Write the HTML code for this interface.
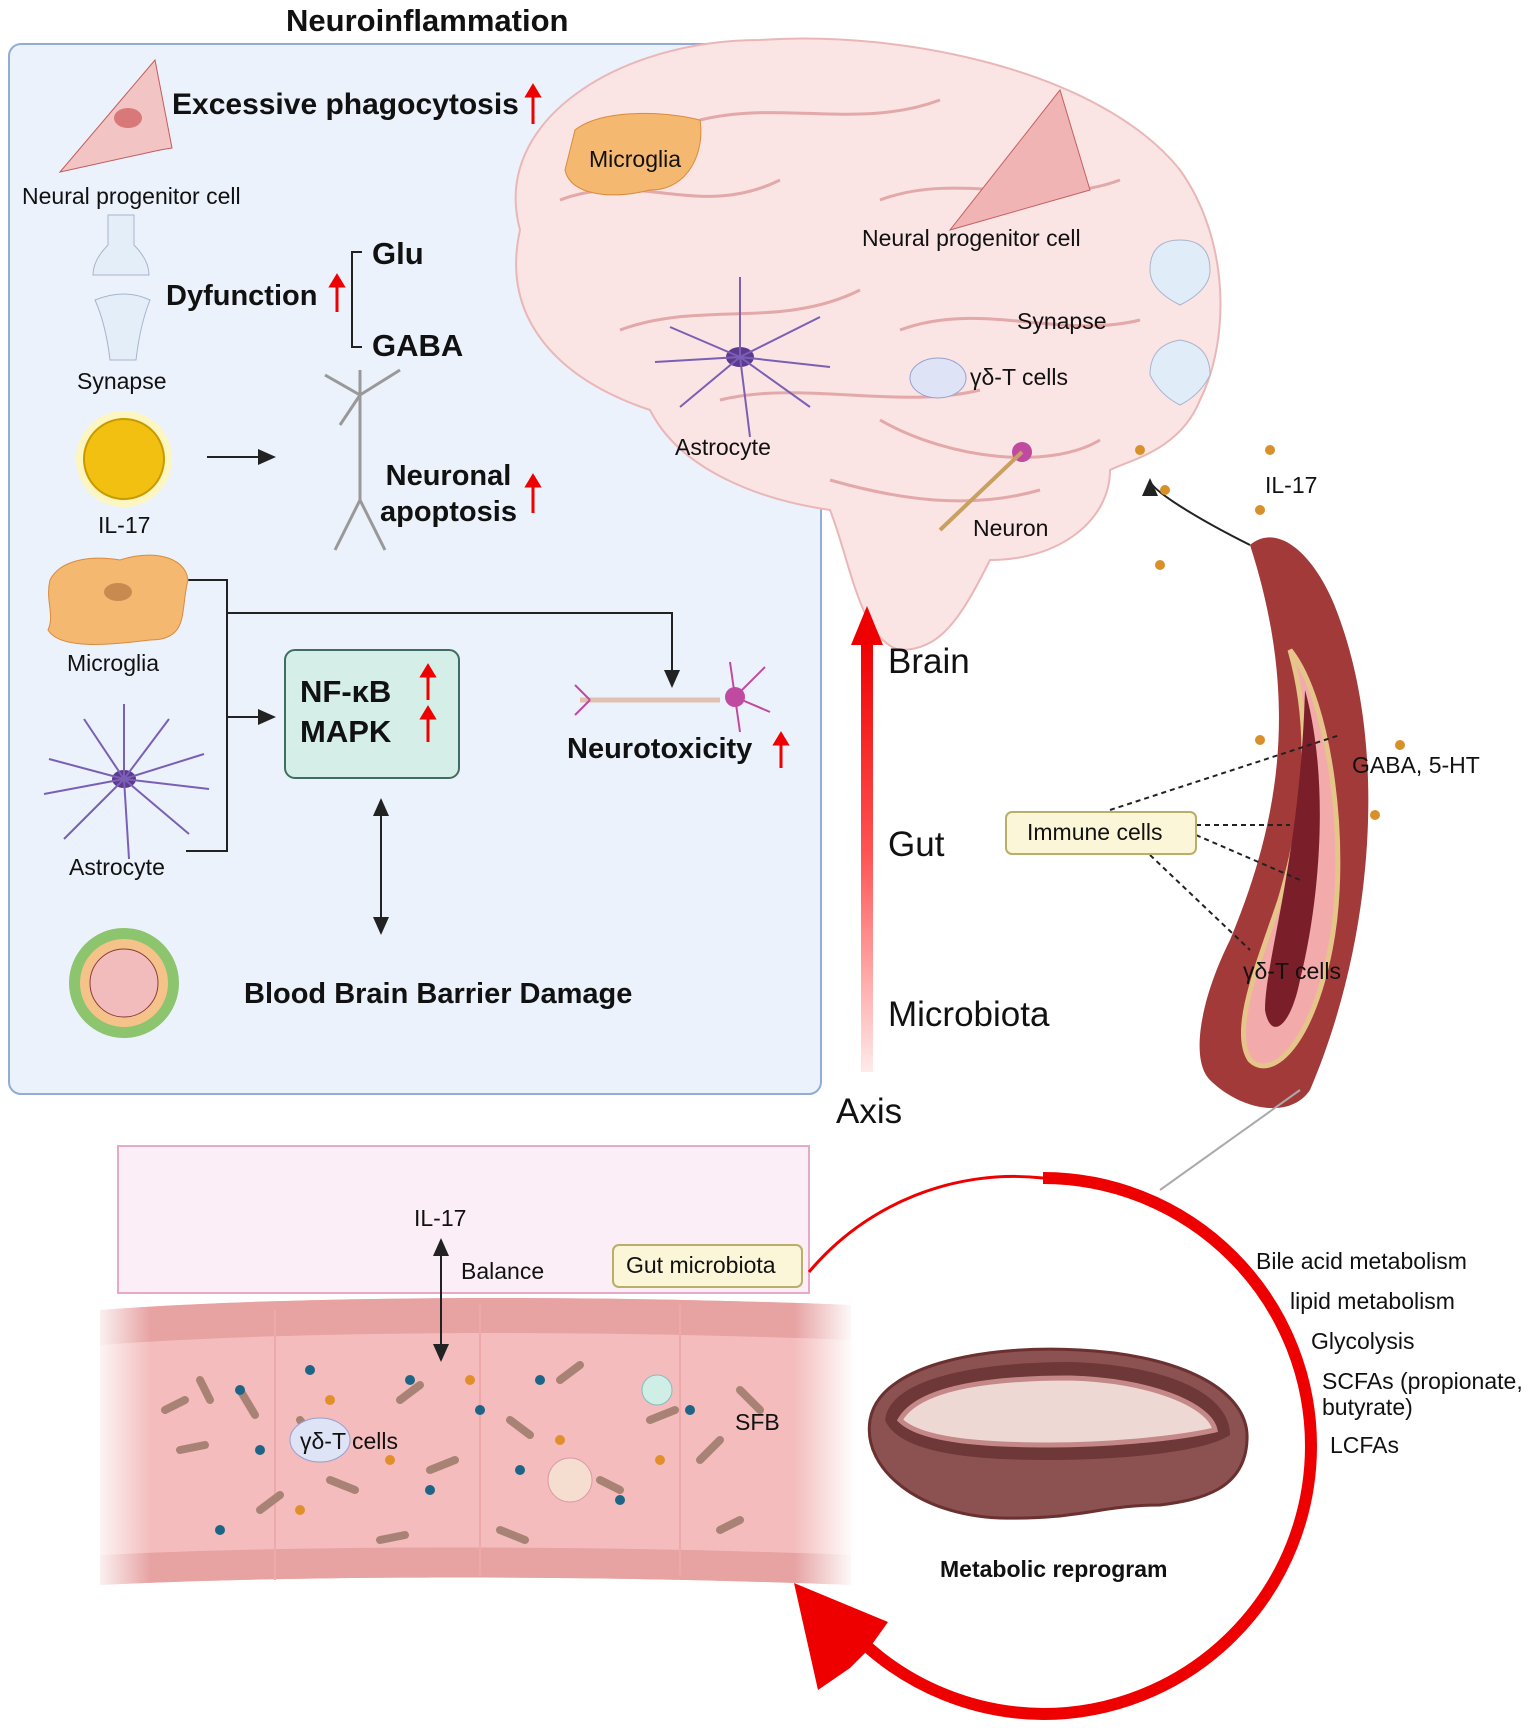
<!DOCTYPE html>
<html><head><meta charset="utf-8"><style>
body{margin:0;width:1535px;height:1728px;position:relative;background:#fff;font-family:"Liberation Sans",sans-serif;overflow:hidden}
.t{position:absolute;white-space:nowrap;color:#111}
.b{font-weight:bold}
</style></head><body>
<svg width="1535" height="1728" style="position:absolute;left:0;top:0">
<defs>
<linearGradient id="ra" x1="0" y1="1" x2="0" y2="0"><stop offset="0" stop-color="#ffeaea"/><stop offset="0.5" stop-color="#f55"/><stop offset="1" stop-color="#e00"/></linearGradient>
<linearGradient id="gf" x1="0" y1="0" x2="1" y2="0"><stop offset="0" stop-color="#fff" stop-opacity="1"/><stop offset="0.08" stop-color="#fff" stop-opacity="0"/><stop offset="0.92" stop-color="#fff" stop-opacity="0"/><stop offset="1" stop-color="#fff" stop-opacity="1"/></linearGradient>
<marker id="ah" markerWidth="10" markerHeight="10" refX="8" refY="5" orient="auto-start-reverse"><path d="M0,1 L9,5 L0,9z" fill="#222"/></marker>
</defs>
<rect x="9" y="44" width="812" height="1050" rx="12" fill="#ebf2fb" stroke="#93acd3" stroke-width="2"/>
<path d="M520,230 C490,120 620,40 760,40 C900,30 1100,70 1180,170 C1230,240 1230,340 1200,400 C1180,450 1130,460 1110,470 C1110,520 1060,560 990,560 C960,620 940,650 900,650 C860,640 850,560 830,510 C760,500 680,470 650,410 C560,380 500,320 520,230z" fill="#fbe4e4" stroke="#e9b7b7" stroke-width="2"/>
<path d="M560,200 C640,170 700,220 780,180 M620,330 C700,300 780,330 860,290 M700,120 C780,100 860,130 940,100 M880,200 C960,170 1040,210 1120,180 M900,330 C980,300 1060,340 1140,320 M720,400 C800,380 900,410 980,390 M880,420 C950,460 1050,470 1100,440 M830,480 C900,500 970,510 1040,490" stroke="#e3a8a8" stroke-width="3" fill="none"/>
<path d="M575,130 C600,110 660,110 700,120 C705,150 690,190 650,190 C610,200 570,195 565,170z" fill="#f5b870" stroke="#d98b3d"/>
<path d="M950,230 L1090,190 L1060,90 Z" fill="#f1b4b4" stroke="#c46060"/>
<ellipse cx="740" cy="357" rx="14" ry="10" fill="#5b3a8f"/>
<g stroke="#7b5fb5" stroke-width="2"><path d="M740,357 l-70,-30 M740,357 l80,-40 M740,357 l-60,50 M740,357 l70,50 M740,357 l0,-80 M740,357 l10,80 M740,357 l-85,5 M740,357 l90,10"/></g>
<ellipse cx="938" cy="378" rx="28" ry="20" fill="#dfe3f6" stroke="#98a0d0"/>
<path d="M1150,270 q0,-30 30,-30 q30,0 30,30 q0,20 -30,35 q-30,-15 -30,-35z M1150,375 q0,-30 30,-35 q30,5 30,35 q-10,20 -30,30 q-20,-10 -30,-30z" fill="#e0ecf8" stroke="#aab5cc"/>
<circle cx="1022" cy="452" r="10" fill="#c04aa0"/>
<path d="M1022,452 L940,530" stroke="#c8a060" stroke-width="4"/>
<rect x="861" y="640" width="12" height="432" fill="url(#ra)"/>
<path d="M851,645 L867,606 L883,645z" fill="#e00"/>
<path d="M1250,545 C1280,520 1320,560 1340,620 C1390,760 1370,950 1310,1090 C1290,1120 1240,1110 1210,1080 C1190,1060 1200,1000 1230,940 C1280,820 1300,700 1250,545z" fill="#a33a3a"/>
<path d="M1290,650 C1330,700 1350,850 1330,950 C1310,1050 1270,1080 1250,1060 C1230,1030 1260,960 1280,900 C1310,800 1310,720 1290,650z" fill="#f2aaaa" stroke="#e6c58a" stroke-width="5"/>
<path d="M1305,690 C1330,780 1320,900 1300,980 C1290,1030 1270,1040 1265,1010 C1265,960 1300,860 1305,690z" fill="#7a1f2a"/>
<path d="M1250,545 C1200,520 1150,490 1150,480" stroke="#222" stroke-width="2" fill="none" marker-end="url(#ah)"/>
<g fill="#d8902a"><circle cx="1165" cy="490" r="5"/><circle cx="1140" cy="450" r="5"/><circle cx="1270" cy="450" r="5"/><circle cx="1160" cy="565" r="5"/><circle cx="1260" cy="510" r="5"/><circle cx="1400" cy="745" r="5"/><circle cx="1260" cy="740" r="5"/><circle cx="1375" cy="815" r="5"/></g>
<path d="M1110,810 L1340,735 M1196,825 L1290,825 M1196,835 L1300,880 M1150,855 L1250,950" stroke="#222" stroke-width="2" stroke-dasharray="5,4"/>
<rect x="1006" y="812" width="190" height="42" rx="6" fill="#fbf6d8" stroke="#b9ae6a" stroke-width="2"/>
<line x1="1300" y1="1090" x2="1160" y2="1190" stroke="#aaa" stroke-width="2"/>
<g stroke="#222" stroke-width="2" fill="none">
<path d="M207,457 L274,457" marker-end="url(#ah)"/>
<path d="M186,580 L227,580 L227,851 L186,851"/>
<path d="M227,613 L672,613 L672,686" marker-end="url(#ah)"/>
<path d="M227,717 L274,717" marker-end="url(#ah)"/>
<path d="M381,800 L381,933" marker-start="url(#ah)" marker-end="url(#ah)"/>
<path d="M362,252 L352,252 L352,347 L362,347"/>
</g>
<rect x="285" y="650" width="174" height="128" rx="10" fill="#d6eee8" stroke="#3f6e60" stroke-width="2"/>
<g stroke="#e00" stroke-width="3" fill="#e00">
<path d="M533,124 V92"/><path d="M527,96 L533,86 L539,96z"/>
<path d="M337,312 V282"/><path d="M331,286 L337,276 L343,286z"/>
<path d="M533,513 V482"/><path d="M527,486 L533,476 L539,486z"/>
<path d="M428,700 V672"/><path d="M422,676 L428,666 L434,676z"/>
<path d="M428,742 V714"/><path d="M422,718 L428,708 L434,718z"/>
<path d="M781,768 V740"/><path d="M775,744 L781,734 L787,744z"/>
</g>
<path d="M60,172 L160,150 L172,148 L155,60 Z" fill="#f3c4c4" stroke="#c35c5c"/>
<ellipse cx="128" cy="118" rx="14" ry="10" fill="#d87878"/>
<path d="M108,215 v30 q-15,15 -15,30 h56 q0,-15 -15,-30 v-30z M95,300 q30,-12 55,0 q-10,25 -14,60 h-26 q-4,-35 -15,-60z" fill="#e4eef8" stroke="#a8b4cc"/>
<circle cx="124" cy="459" r="48" fill="#fdf6c0"/><circle cx="124" cy="459" r="40" fill="#f1c010" stroke="#c79a00" stroke-width="2"/>
<g stroke="#999" stroke-width="3" fill="none"><path d="M360,370 l0,130 M360,395 l-35,-20 M360,395 l40,-25 M360,395 l-20,30 M360,500 l-25,50 M360,500 l25,50"/></g>
<path d="M50,580 C60,560 90,555 120,560 C150,550 185,555 188,580 C180,610 190,640 150,640 C110,645 60,650 48,630 C55,615 45,600 50,580z" fill="#f5b870" stroke="#d98b3d"/>
<ellipse cx="118" cy="592" rx="14" ry="9" fill="#c98a50"/>
<ellipse cx="124" cy="779" rx="12" ry="9" fill="#5b3a8f"/>
<g stroke="#7b5fb5" stroke-width="2"><path d="M124,779 l-75,-20 M124,779 l80,-25 M124,779 l-60,60 M124,779 l65,55 M124,779 l0,-75 M124,779 l5,80 M124,779 l-80,15 M124,779 l85,10 M124,779 l-40,-60 M124,779 l45,-60"/></g>
<circle cx="124" cy="983" r="55" fill="#8dc46e"/><circle cx="124" cy="983" r="44" fill="#f5c38a"/><circle cx="124" cy="983" r="34" fill="#f3bcbc" stroke="#8a3a3a"/>
<path d="M580,700 L720,700" stroke="#e0c0b0" stroke-width="5"/>
<circle cx="735" cy="697" r="10" fill="#c04aa0"/>
<g stroke="#c04aa0" stroke-width="2"><path d="M735,697 l30,-30 M735,697 l35,15 M735,697 l-5,-35 M735,697 l5,35 M590,700 l-15,-15 M590,700 l-15,15"/></g>
<rect x="118" y="1146" width="691" height="147" fill="#fceef6" stroke="#e6a9c8" stroke-width="2"/>
<path d="M100,1310 C300,1295 600,1295 851,1305 L851,1585 C600,1575 300,1575 100,1585 Z" fill="#f4bcbc"/>
<path d="M100,1310 C300,1295 600,1295 851,1305 L851,1340 C600,1330 300,1330 100,1345Z" fill="#e7a2a2"/>
<path d="M100,1555 C300,1545 600,1545 851,1555 L851,1585 C600,1575 300,1575 100,1585Z" fill="#e7a2a2"/>
<g stroke="#eaa" stroke-width="2" fill="none"><path d="M275,1310 V1580 M480,1305 V1575 M680,1305 V1575"/></g>
<g stroke="#a88375" stroke-width="8" stroke-linecap="round">
<path d="M165,1410 l20,-10 M200,1380 l10,20 M240,1390 l15,25 M180,1450 l25,-5 M260,1510 l20,-15 M330,1480 l25,10 M400,1400 l20,-15 M430,1470 l25,-10 M510,1420 l20,15 M560,1380 l20,-15 M600,1480 l20,10 M650,1420 l25,-10 M700,1460 l20,-20 M740,1390 l20,20 M720,1530 l20,-10 M500,1530 l25,10 M380,1540 l25,-5 M300,1420 l15,20"/>
</g>
<g fill="#1d6486"><circle cx="240" cy="1390" r="5"/><circle cx="310" cy="1370" r="5"/><circle cx="410" cy="1380" r="5"/><circle cx="480" cy="1410" r="5"/><circle cx="540" cy="1380" r="5"/><circle cx="260" cy="1450" r="5"/><circle cx="430" cy="1490" r="5"/><circle cx="520" cy="1470" r="5"/><circle cx="220" cy="1530" r="5"/><circle cx="690" cy="1410" r="5"/><circle cx="620" cy="1500" r="5"/></g>
<g fill="#e08f2a"><circle cx="330" cy="1400" r="5"/><circle cx="390" cy="1460" r="5"/><circle cx="470" cy="1380" r="5"/><circle cx="560" cy="1440" r="5"/><circle cx="660" cy="1460" r="5"/><circle cx="300" cy="1510" r="5"/></g>
<ellipse cx="320" cy="1440" rx="30" ry="22" fill="#dfe3f6" stroke="#98a0d0"/>
<circle cx="570" cy="1480" r="22" fill="#f5ddd0" stroke="#d9a"/>
<circle cx="657" cy="1390" r="15" fill="#cfeee6" stroke="#8bb"/>
<rect x="90" y="1295" width="765" height="295" fill="url(#gf)"/>
<rect x="613" y="1245" width="189" height="42" rx="6" fill="#fbf6d8" stroke="#b9ae6a" stroke-width="2"/>
<path d="M441,1360 L441,1240" stroke="#222" stroke-width="2" marker-start="url(#ah)" marker-end="url(#ah)"/>
<path d="M809,1272 A268,268 0 0,1 1043,1178" stroke="#e00" stroke-width="3" fill="none"/>
<path d="M1043,1178 A268,268 0 0,1 1311,1446 A268,268 0 0,1 1043,1714 A268,268 0 0,1 860,1640" stroke="#e00" stroke-width="12" fill="none"/>
<path d="M794,1583 L888,1622 L868,1650 L850,1668 L818,1690 Z" fill="#e00"/>
<path d="M870,1420 C880,1360 1000,1345 1080,1350 C1180,1355 1250,1390 1247,1440 C1245,1490 1200,1500 1160,1505 C1100,1505 1080,1520 1000,1518 C920,1515 862,1470 870,1420z" fill="#8c5252" stroke="#6b3030" stroke-width="3"/>
<path d="M885,1420 C890,1375 990,1362 1070,1362 C1170,1365 1230,1395 1230,1435 C1200,1455 1100,1460 1050,1460 C980,1460 900,1455 885,1420z" fill="#6e3838"/>
<path d="M900,1420 C920,1385 1000,1378 1070,1378 C1150,1380 1210,1405 1215,1430 C1170,1440 1100,1445 1050,1445 C980,1445 920,1440 900,1420z" fill="#eed8d4" stroke="#c48888" stroke-width="5"/>
</svg>
<div class="t b" style="left:286px;top:3px;font-size:31px">Neuroinflammation</div>
<div class="t b" style="left:172px;top:88px;font-size:30px">Excessive phagocytosis</div>
<div class="t" style="left:22px;top:183px;font-size:23px">Neural progenitor cell</div>
<div class="t b" style="left:166px;top:280px;font-size:29px">Dyfunction</div>
<div class="t b" style="left:372px;top:236px;font-size:31px">Glu</div>
<div class="t b" style="left:372px;top:328px;font-size:31px">GABA</div>
<div class="t" style="left:77px;top:368px;font-size:23px">Synapse</div>
<div class="t" style="left:98px;top:512px;font-size:23px">IL-17</div>
<div class="t b" style="left:380px;top:458px;font-size:29px;line-height:36px;text-align:center">Neuronal<br>apoptosis</div>
<div class="t" style="left:67px;top:650px;font-size:23px">Microglia</div>
<div class="t" style="left:69px;top:854px;font-size:23px">Astrocyte</div>
<div class="t b" style="left:300px;top:672px;font-size:31px;line-height:40px">NF-κB<br>MAPK</div>
<div class="t b" style="left:567px;top:733px;font-size:29px">Neurotoxicity</div>
<div class="t b" style="left:244px;top:978px;font-size:29px">Blood Brain Barrier Damage</div>
<div class="t" style="left:589px;top:146px;font-size:23px">Microglia</div>
<div class="t" style="left:862px;top:225px;font-size:23px">Neural progenitor cell</div>
<div class="t" style="left:1017px;top:308px;font-size:23px">Synapse</div>
<div class="t" style="left:970px;top:364px;font-size:23px">γδ-T cells</div>
<div class="t" style="left:675px;top:434px;font-size:23px">Astrocyte</div>
<div class="t" style="left:973px;top:515px;font-size:23px">Neuron</div>
<div class="t" style="left:1265px;top:472px;font-size:23px">IL-17</div>
<div class="t" style="left:888px;top:642px;font-size:35px">Brain</div>
<div class="t" style="left:888px;top:825px;font-size:35px">Gut</div>
<div class="t" style="left:888px;top:995px;font-size:35px">Microbiota</div>
<div class="t" style="left:836px;top:1092px;font-size:35px">Axis</div>
<div class="t" style="left:1352px;top:752px;font-size:23px">GABA, 5-HT</div>
<div class="t" style="left:1027px;top:819px;font-size:23px">Immune cells</div>
<div class="t" style="left:1243px;top:958px;font-size:23px">γδ-T cells</div>
<div class="t" style="left:414px;top:1205px;font-size:23px">IL-17</div>
<div class="t" style="left:461px;top:1258px;font-size:23px">Balance</div>
<div class="t" style="left:626px;top:1252px;font-size:23px">Gut microbiota</div>
<div class="t" style="left:300px;top:1428px;font-size:23px">γδ-T cells</div>
<div class="t" style="left:735px;top:1409px;font-size:23px">SFB</div>
<div class="t" style="left:1256px;top:1248px;font-size:23px">Bile acid metabolism</div>
<div class="t" style="left:1290px;top:1288px;font-size:23px">lipid metabolism</div>
<div class="t" style="left:1311px;top:1328px;font-size:23px">Glycolysis</div>
<div class="t" style="left:1322px;top:1368px;font-size:23px;line-height:26px">SCFAs (propionate,<br>butyrate)</div>
<div class="t" style="left:1330px;top:1432px;font-size:23px">LCFAs</div>
<div class="t b" style="left:940px;top:1556px;font-size:23px">Metabolic reprogram</div>
</body></html>
